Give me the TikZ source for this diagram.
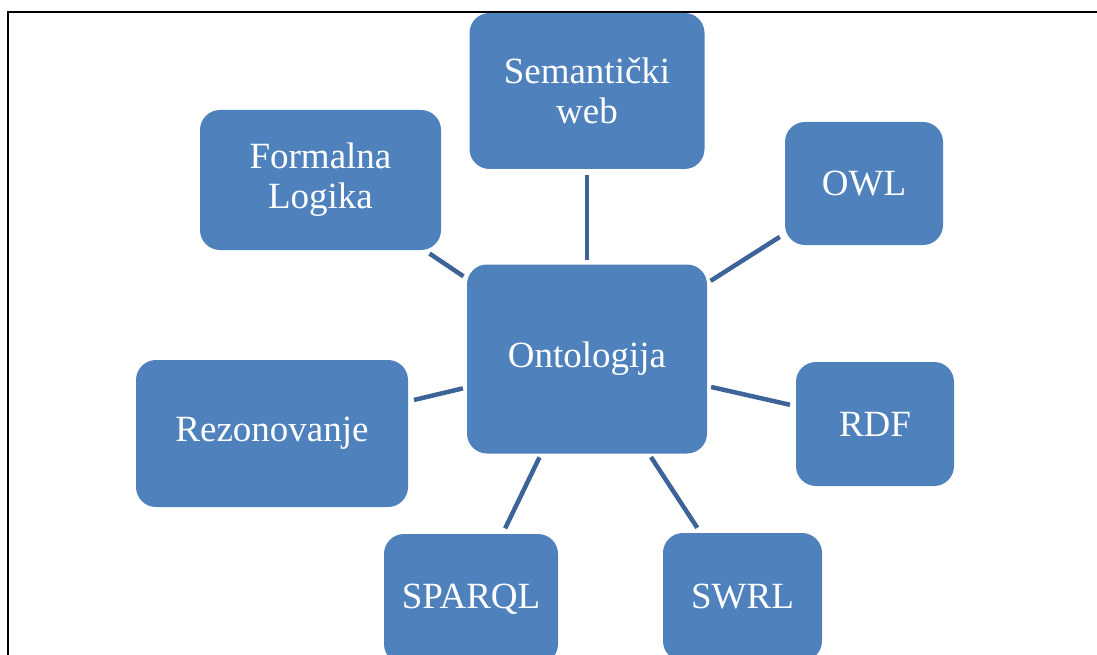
\documentclass[tikz,border=0pt]{standalone}
\usepackage{fontspec}
\setmainfont{Liberation Serif}
\definecolor{boxblue}{RGB}{79,129,189}
\definecolor{linkblue}{RGB}{60,100,152}
\begin{document}
\begin{tikzpicture}[x=1pt,y=-1pt,
  box/.style={rectangle, rounded corners=20pt, fill=boxblue, text=white,
    align=center, inner sep=0pt, font=\fontsize{37}{40}\selectfont},
  link/.style={draw=linkblue, line width=4.5pt, shorten <=6pt, shorten >=4pt}]
\useasboundingbox (0,0) rectangle (1097,655);
\fill[white] (0,0) rectangle (1097,655);
\draw[line width=2.8pt] (8,700) -- (8,12) -- (1200,12);
\node[box, minimum width=235pt, minimum height=156pt] (sem) at (587,91) {Semantički\\web};
\node[box, minimum width=241pt, minimum height=140pt] (form) at (320.5,180) {Formalna\\Logika};
\node[box, minimum width=158pt, minimum height=123pt] (owl) at (864,183.5) {OWL};
\node[box, minimum width=240pt, minimum height=189pt] (onto) at (587,359) {Ontologija};
\node[box, minimum width=272pt, minimum height=147pt] (rez) at (272,433.5) {Rezonovanje};
\node[box, minimum width=158pt, minimum height=124pt] (rdf) at (875,424) {RDF};
\node[box, minimum width=174pt, minimum height=130pt] (sparql) at (471,599) {SPARQL};
\node[box, minimum width=159pt, minimum height=128pt] (swrl) at (742.5,597) {SWRL};
\draw[link] (sem) -- (onto);
\draw[link] (form) -- (onto);
\draw[link] (owl) -- (onto);
\draw[link] (rez) -- (onto);
\draw[link] (rdf) -- (onto);
\draw[link] (sparql) -- (onto);
\draw[link] (swrl) -- (onto);
\end{tikzpicture}
\end{document}
